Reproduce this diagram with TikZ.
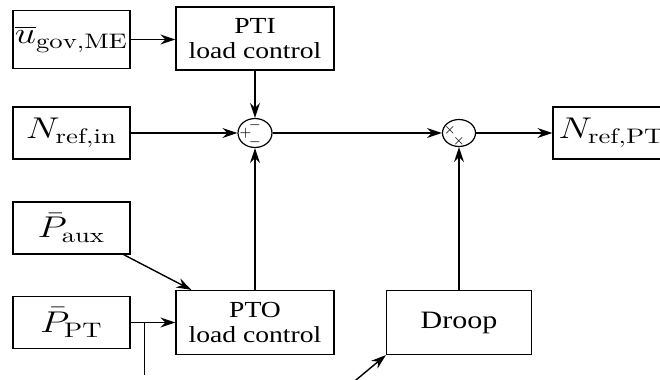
\RequirePackage{fix-cm}
\documentclass[tikz,border=0pt]{standalone}
\usepackage{fontspec}
\usepackage{graphicx}
\usetikzlibrary{arrows.meta,shapes.geometric}
\newfontfamily\bloccofont[FakeStretch=1.2]{Liberation Serif}
\newcommand{\largo}[1]{\scalebox{1.27}[1]{#1}}

\begin{document}
\begin{tikzpicture}[x=0.5pt, y=-0.5pt,
    blocco/.style={draw, line width=0.6pt, inner sep=0pt, align=center},
    ingresso/.style={blocco, minimum width=58.5pt, minimum height=26pt, font=\fontsize{15}{18}\selectfont},
    controllo/.style={blocco, minimum width=79pt, minimum height=32pt, font=\bloccofont\fontsize{11.5}{12.8}\selectfont},
    nodo/.style={draw, ellipse, line width=0.6pt, minimum width=17pt, minimum height=14.5pt, inner sep=0pt},
    segno/.style={inner sep=0pt, font=\fontsize{6.5}{6.5}\selectfont},
    freccia/.style={line width=0.7pt, -{Stealth[length=7.5pt, width=5pt]}},
    linea/.style={line width=0.7pt}]
  \useasboundingbox (0,0) rectangle (660,380);
  \clip (0,0) rectangle (660,380);

  % Blocchi
  \node[ingresso, minimum height=29pt] (ugov) at (71.5,39.5) {\largo{$\overline{u}_{\mathrm{gov,ME}}$}};
  \node[controllo, minimum height=31.5pt] (pti) at (255,38.5) {PTI\\load control};
  \node[ingresso] (nin) at (71.5,133) {\largo{$N_{\mathrm{ref,in}}$}};
  \node[nodo] (somma) at (255,133) {};
  \node[nodo, minimum width=16.5pt, minimum height=13.5pt] (prod) at (459,133) {};
  \node[ingresso] (npt) at (611.5,133) {\largo{$N_{\mathrm{ref,PT}}$}};
  \node[ingresso] (paux) at (71.5,228) {\largo{$\bar{P}_{\mathrm{aux}}$}};
  \node[ingresso] (ppt) at (71.5,322.5) {\largo{$\bar{P}_{\mathrm{PT}}$}};
  \node[controllo] (pto) at (255,322.5) {PTO\\load control};
  \node[controllo, minimum width=72.5pt, font=\bloccofont\fontsize{12.5}{14}\selectfont] (droop) at (459,322.5) {Droop};

  % Segni
  \node[segno] (piu) at (245.5,133) {$+$};
  \node[segno] (meno1) at (255,125) {$-$};
  \node[segno] (meno2) at (255,142) {$-$};
  \node[segno] (per1) at (450,130) {$\times$};
  \node[segno] (per2) at (459,141) {$\times$};

  % Frecce
  \draw[freccia] (ugov.east) -- (ugov.east -| pti.west);
  \draw[freccia] (pti) -- (somma);
  \draw[freccia] (nin) -- (somma);
  \draw[freccia] (pto) -- (somma);
  \draw[freccia] (somma) -- (prod);
  \draw[freccia] (droop) -- (prod);
  \draw[freccia] (prod) -- (npt);
  \draw[freccia] ([xshift=-3.5pt]paux.south east) -- ([xshift=8pt]pto.north west);
  \draw[freccia] (ppt) -- (pto);
  \coordinate (ramo) at ([xshift=7pt]ppt.east);
  \coordinate (ramofine) at ([yshift=-10pt]ramo |- pto.south);
  \draw[linea] (ramo) -- (ramofine);
  \coordinate (ingdroop) at (350,385);
  \draw[freccia] (ingdroop) -- (droop.south west);
\end{tikzpicture}
\end{document}
